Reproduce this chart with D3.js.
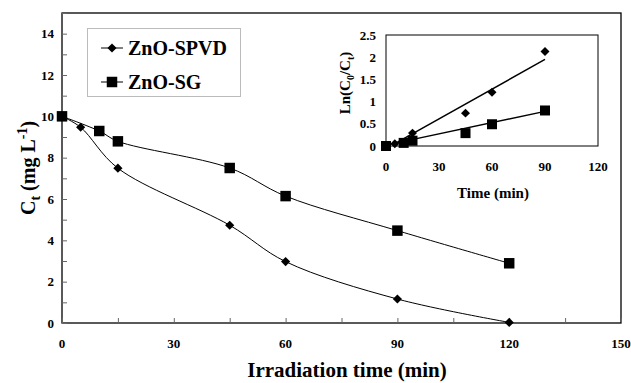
<!DOCTYPE html>
<html>
<head>
<meta charset="utf-8">
<script src="https://cdn.jsdelivr.net/npm/d3@7"></script>
<style>
  body { margin: 0; background: #fff; }
</style>
</head>
<body>
<svg width="631" height="383" font-family="'Liberation Serif', 'Times New Roman', Times, 'DejaVu Serif', serif" font-weight="bold"></svg>
<script>
// main chart data
var spvdTime = [0, 5, 15, 45, 60, 90, 120];
var spvdConc = [10, 9.47, 7.49, 4.73, 2.97, 1.16, 0.03];
var sgTime = [0, 10, 15, 45, 60, 90, 120];
var sgConc = [10, 9.29, 8.79, 7.5, 6.14, 4.47, 2.89];
var xTicks = [0, 30, 60, 90, 120, 150];
var yTicks = [0, 2, 4, 6, 8, 10, 12, 14];

// inset data: ln(C0/Ct)
var insSpvdTime = [0, 5, 15, 45, 60, 90];
var insSpvdLn = [0, 0.05, 0.29, 0.74, 1.21, 2.13];
var insSgTime = [0, 10, 15, 45, 60, 90];
var insSgLn = [0, 0.07, 0.12, 0.29, 0.49, 0.8];
// trend line end points
var spvdTrend = [[4, 0.03], [90, 1.95]];
var sgTrend = [[0, 0.02], [90, 0.78]];
var insXTicks = [0, 30, 60, 90, 120];
var insYTicks = [0, 0.5, 1, 1.5, 2, 2.5];

var svg = d3.select("svg");

// Step 1 - main scales
var x = d3.scaleLinear().domain([0, 150]).range([62, 621]),
  y = d3.scaleLinear().domain([0, 15]).range([323, 13]);

// plot frame
svg.append("rect")
  .attr("x", 62).attr("y", 13)
  .attr("width", 621 - 62).attr("height", 323 - 13)
  .attr("fill", "none").attr("stroke", "#000").attr("stroke-width", 1.3);

// x axis (inside ticks every 15)
var gx = svg.append("g").attr("transform", "translate(0,323)");
gx.call(d3.axisBottom(x).tickValues(d3.range(0, 151, 15)).tickSize(-5).tickFormat(""));
gx.select(".domain").remove();
gx.selectAll("line").attr("stroke", "#666");
svg.append("g").selectAll("text").data(xTicks).enter().append("text")
  .attr("x", function (d) { return x(d); })
  .attr("y", 348)
  .attr("text-anchor", "middle")
  .style("font-size", "13px")
  .text(function (d) { return d; });

// y axis (inside ticks every 1)
var gy = svg.append("g").attr("transform", "translate(62,0)");
gy.call(d3.axisLeft(y).tickValues(d3.range(0, 16, 1)).tickSize(-5).tickFormat(""));
gy.select(".domain").remove();
gy.selectAll("line").attr("stroke", "#666");
svg.append("g").selectAll("text").data(yTicks).enter().append("text")
  .attr("x", 54)
  .attr("y", function (d) { return y(d); })
  .attr("dy", "0.35em")
  .attr("text-anchor", "end")
  .style("font-size", "13px")
  .text(function (d) { return d; });

// axis titles
svg.append("text")
  .attr("x", 347).attr("y", 377)
  .attr("text-anchor", "middle")
  .style("font-size", "21px")
  .text("Irradiation time (min)");

var yt = svg.append("text")
  .attr("transform", "translate(35,168)rotate(-90)")
  .attr("text-anchor", "middle")
  .style("font-size", "20px");
yt.append("tspan").text("C");
yt.append("tspan").attr("dy", 5).style("font-size", "14px").text("t");
yt.append("tspan").attr("dy", -5).text(" (mg L");
yt.append("tspan").attr("dy", -8).style("font-size", "14px").text("-1");
yt.append("tspan").attr("dy", 8).text(")");

// Step 2 - curves
var line = d3.line()
  .x(function (d) { return x(d[0]); })
  .y(function (d) { return y(d[1]); })
  .curve(d3.curveCatmullRom.alpha(0.5));

var spvd = d3.zip(spvdTime, spvdConc),
  sg = d3.zip(sgTime, sgConc);

svg.append("path").datum(spvd).attr("d", line)
  .attr("fill", "none").attr("stroke", "#000").attr("stroke-width", 1);
svg.append("path").datum(sg).attr("d", line)
  .attr("fill", "none").attr("stroke", "#000").attr("stroke-width", 1);

var diamond = d3.symbol().type(d3.symbolSquare).size(42);
var square = d3.symbol().type(d3.symbolSquare).size(110);

svg.append("g").selectAll("path").data(spvd).enter().append("path")
  .attr("d", diamond)
  .attr("transform", function (d) { return "translate(" + x(d[0]) + "," + y(d[1]) + ")rotate(45)"; })
  .attr("fill", "#000");
svg.append("g").selectAll("path").data(sg).enter().append("path")
  .attr("d", square)
  .attr("transform", function (d) { return "translate(" + x(d[0]) + "," + y(d[1]) + ")"; })
  .attr("fill", "#000");

// legend
svg.append("rect")
  .attr("x", 87.5).attr("y", 28.5).attr("width", 153).attr("height", 68)
  .attr("fill", "#fff").attr("stroke", "#bbb").attr("stroke-width", 1);
var legend = [["ZnO-SPVD", 48, diamond, 45], ["ZnO-SG", 82, square, 0]];
legend.forEach(function (l) {
  svg.append("line")
    .attr("x1", 101).attr("x2", 123).attr("y1", l[1]).attr("y2", l[1])
    .attr("stroke", "#000").attr("stroke-width", 1);
  svg.append("path").attr("d", l[2])
    .attr("transform", "translate(112," + l[1] + ")rotate(" + l[3] + ")")
    .attr("fill", "#000");
  svg.append("text")
    .attr("x", 128).attr("y", l[1]).attr("dy", "0.35em")
    .style("font-size", "20px")
    .text(l[0]);
});

// Step 3 - inset
var ix = d3.scaleLinear().domain([0, 120]).range([386, 598]),
  iy = d3.scaleLinear().domain([0, 2.5]).range([146, 35]);

svg.append("rect")
  .attr("x", 386).attr("y", 35).attr("width", 598 - 386).attr("height", 146 - 35)
  .attr("fill", "#fff").attr("stroke", "#000").attr("stroke-width", 1);

svg.append("g").selectAll("text").data(insXTicks).enter().append("text")
  .attr("x", function (d) { return ix(d); })
  .attr("y", 171)
  .attr("text-anchor", "middle")
  .style("font-size", "13px")
  .text(function (d) { return d; });
svg.append("g").selectAll("text").data(insYTicks).enter().append("text")
  .attr("x", 376)
  .attr("y", function (d) { return iy(d); })
  .attr("dy", "0.35em")
  .attr("text-anchor", "end")
  .style("font-size", "13px")
  .text(function (d) { return d; });

svg.append("text")
  .attr("x", 493).attr("y", 198)
  .attr("text-anchor", "middle")
  .style("font-size", "15px")
  .text("Time (min)");

var it = svg.append("text")
  .attr("transform", "translate(350,83)rotate(-90)")
  .attr("text-anchor", "middle")
  .style("font-size", "15px");
it.append("tspan").text("Ln(C");
it.append("tspan").attr("dy", 4).style("font-size", "10px").text("0");
it.append("tspan").attr("dy", -4).text("/C");
it.append("tspan").attr("dy", 4).style("font-size", "10px").text("t");
it.append("tspan").attr("dy", -4).text(")");

var tline = d3.line()
  .x(function (d) { return ix(d[0]); })
  .y(function (d) { return iy(d[1]); });
[spvdTrend, sgTrend].forEach(function (t) {
  svg.append("path").datum(t).attr("d", tline)
    .attr("stroke", "#000").attr("stroke-width", 1.5).attr("fill", "none");
});

var iDiamond = d3.symbol().type(d3.symbolSquare).size(40);
var iSquare = d3.symbol().type(d3.symbolSquare).size(100);
svg.append("g").selectAll("path").data(d3.zip(insSgTime, insSgLn)).enter().append("path")
  .attr("d", iSquare)
  .attr("transform", function (d) { return "translate(" + ix(d[0]) + "," + iy(d[1]) + ")"; })
  .attr("fill", "#000");
svg.append("g").selectAll("path").data(d3.zip(insSpvdTime, insSpvdLn)).enter().append("path")
  .attr("d", iDiamond)
  .attr("transform", function (d) { return "translate(" + ix(d[0]) + "," + iy(d[1]) + ")rotate(45)"; })
  .attr("fill", "#000");
</script>
</body>
</html>
